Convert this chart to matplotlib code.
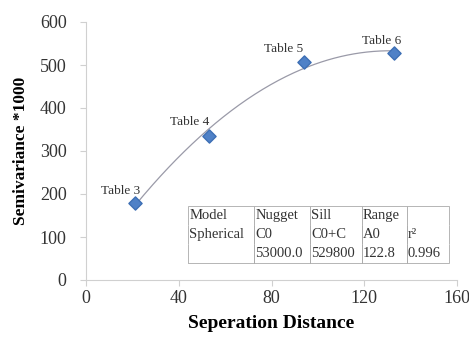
import numpy as np
import matplotlib.pyplot as plt

# lag distance vs semivariance (x1000) for the four tables
distance = [21, 53, 94, 133]
semivariance = [179, 335, 507, 528]
point_labels = ['Table 3', 'Table 4', 'Table 5', 'Table 6']

# spherical model summary
model_cols = [['Model', 'Spherical', ''],
              ['Nugget', 'C0', '53000.0'],
              ['Sill', 'C0+C', '529800'],
              ['Range', 'A0', '122.8'],
              ['', 'r\u00b2', '0.996']]

plt.rcParams['font.family'] = ['Liberation Serif', 'DejaVu Serif']

fig = plt.figure(figsize=(4.69, 3.42), dpi=100)
ax = fig.add_axes([86 / 469, 62 / 342, 371 / 469, 258 / 342])

# trend line through the points
coef = np.polyfit(distance, semivariance, 2)
xs = np.linspace(min(distance), max(distance), 200)
ax.plot(xs, np.polyval(coef, xs), color='#9a9aa8', lw=0.9, zorder=2)

ax.scatter(distance, semivariance, marker='D', s=45, color='#4f81c7',
           edgecolor='#3d6fb5', zorder=3)

# label offsets in points, labels sit up and to the left of the markers
offsets = [(-10, 4), (-14, 5.5), (-15, 5), (-9, 4.5)]
for x, y, lab, (dx, dy) in zip(distance, semivariance, point_labels, offsets):
    ax.annotate(lab, (x, y), xytext=(dx, dy), textcoords='offset points',
                ha='center', va='bottom', fontsize=9.5, color='#333333')

ax.set_xlim(0, 160)
ax.set_ylim(0, 600)
ax.set_xticks([0, 40, 80, 120, 160])
ax.set_yticks([0, 100, 200, 300, 400, 500, 600])
for s in ['top', 'right']:
    ax.spines[s].set_visible(False)
for s in ['left', 'bottom']:
    ax.spines[s].set_color('#d0d0d0')
ax.tick_params(colors='#d0d0d0', labelcolor='#333333', labelsize=13,
               length=4)
ax.tick_params(axis='y', pad=10)
ax.tick_params(axis='x', pad=3)
ax.set_xlabel('Seperation Distance', fontsize=14, fontweight='bold', labelpad=6)
ax.set_ylabel('Semivariance *1000', fontsize=12.5, fontweight='bold', labelpad=8)

# parameter table
col_w = [66 / 371, 56 / 371, 52 / 371, 45 / 371, 42 / 371]
cells = [list(r) for r in zip(*model_cols)]
tbl = ax.table(cellText=cells, colWidths=col_w, cellLoc='left',
               bbox=[(188 - 86) / 371, (280 - 263) / 258, 261 / 371, 57 / 258])
tbl.auto_set_font_size(False)
tbl.set_fontsize(10.5)
for (r, c), cell in tbl.get_celld().items():
    cell.set_edgecolor('#aaaaaa')
    cell.set_linewidth(0.6)
    cell.visible_edges = 'LR' if r == 1 else ('TLR' if r == 0 else 'BLR')
    cell.PAD = 0.02
    cell.get_text().set_color('#333333')

fig.savefig('out.png', dpi=100)
